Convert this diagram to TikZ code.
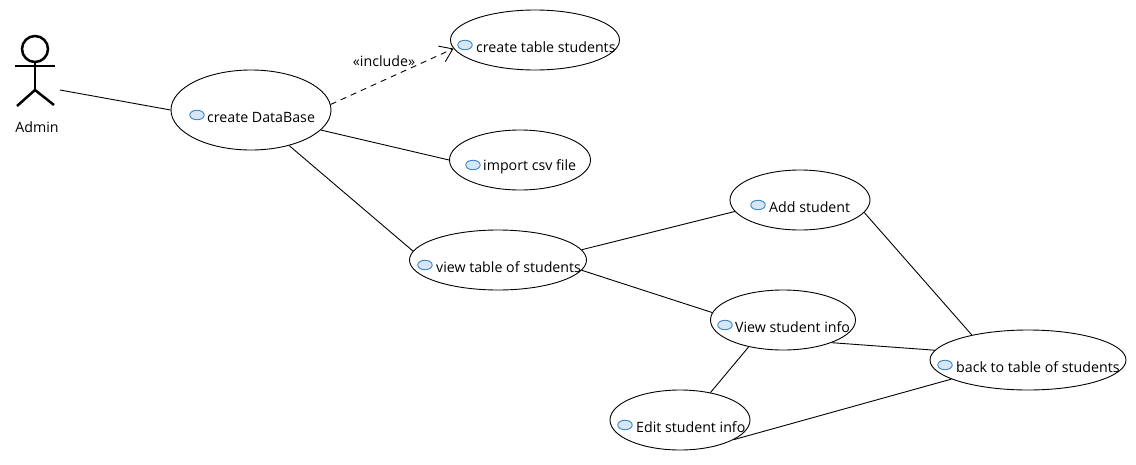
\documentclass[tikz,border=0pt]{standalone}
\usepackage{fontspec}
\setmainfont{Open Sans}
\usetikzlibrary{shapes.geometric,arrows.meta}
\definecolor{iconfill}{HTML}{D6E6F7}
\definecolor{iconline}{HTML}{3C86C4}
\tikzset{
  usecase/.style={draw=black,ellipse,inner sep=0pt,line width=0.9pt,fill=white},
  ucicon/.style={draw=iconline,fill=iconfill,ellipse,inner sep=0pt,minimum width=14.5pt,minimum height=9.5pt,line width=0.9pt},
  uctext/.style={anchor=west,inner sep=0pt,font=\fontsize{14.2}{16}\selectfont,text=black},
  link/.style={draw=black,line width=0.9pt},
  includelink/.style={link,dashed,dash pattern=on 6pt off 5pt,-{Straight Barb[length=12pt,width=17pt,line width=0.9pt]}},
  actorline/.style={draw=black,line width=2.5pt}
}
\begin{document}
\begin{tikzpicture}[x=1pt,y=-1pt]
\useasboundingbox (0,0) rectangle (1136,464);
% use case ellipses
\node[usecase,minimum width=160pt,minimum height=80pt] (db) at (251,110) {};
\node[usecase,minimum width=169pt,minimum height=60pt] (tbl) at (535,40) {};
\node[usecase,minimum width=141pt,minimum height=60pt] (csv) at (520,160) {};
\node[usecase,minimum width=177pt,minimum height=60pt] (view) at (498,260) {};
\node[usecase,minimum width=140pt,minimum height=60pt] (add) at (800,200) {};
\node[usecase,minimum width=145pt,minimum height=60pt] (info) at (783,320) {};
\node[usecase,minimum width=140pt,minimum height=60pt] (edit) at (680,420) {};
\node[usecase,minimum width=196pt,minimum height=60pt] (back) at (1028,360) {};
% icons
\node[ucicon] (i1) at (197,115) {};
\node[ucicon] (i2) at (465,45) {};
\node[ucicon] (i3) at (473,165) {};
\node[ucicon] (i4) at (425,265) {};
\node[ucicon] (i5) at (758,205) {};
\node[ucicon] (i6) at (725,325) {};
\node[ucicon] (i7) at (625,425) {};
\node[ucicon] (i8) at (945,365) {};
% labels
\node[uctext] (t1) at (207,117) {create DataBase};
\node[uctext] (t2) at (476,47) {create table students};
\node[uctext] (t3) at (483,167) {import csv file};
\node[uctext] (t4) at (436,267) {view table of students};
\node[uctext] (t5) at (769,207) {Add student};
\node[uctext] (t6) at (735,327) {View student info};
\node[uctext] (t7) at (636,427) {Edit student info};
\node[uctext] (t8) at (956,367) {back to table of students};
% actor
\node[draw=black,circle,line width=2.5pt,minimum size=26pt,inner sep=0pt] (head) at (35,49) {};
\coordinate (armL) at (15,66);
\coordinate (armR) at (55,66);
\coordinate (hip) at (35,90);
\coordinate (legL) at (17,106);
\coordinate (legR) at (54,105);
\coordinate (actorport) at (60,90);
\draw[actorline] (armL) -- (armR);
\draw[actorline] (head.south) -- (hip);
\draw[actorline] (legL) -- (hip) -- (legR);
\node[uctext,anchor=center] (admin) at (37,127.5) {Admin};
% connectors
\draw[link] (actorport) -- (db.180);
\draw[includelink] (db.4) -- (tbl.186);
\node[uctext,anchor=center] (inc) at (384,61) {«include»};
\draw[link] (db.-16) -- (csv.180);
\draw[link] (db.-43) -- (view.174);
\draw[link] (view.7) -- (add.190);
\draw[link] (view.-7) -- (info.174);
\draw[link] (add.-11) -- (back.156);
\draw[link] (info.-25) -- (back.174);
\draw[link] (info.218) -- (edit.42);
\draw[link] (edit.-20) -- (back.194);
\end{tikzpicture}
\end{document}
